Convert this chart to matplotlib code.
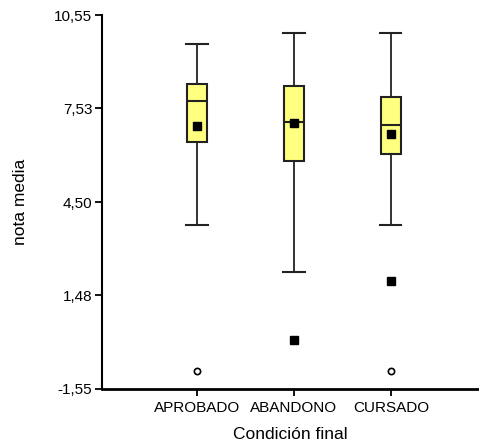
import matplotlib
matplotlib.use("Agg")
import matplotlib.pyplot as plt

plt.rcParams['font.family'] = ['Liberation Sans', 'DejaVu Sans']

categories = ["APROBADO", "ABANDONO", "CURSADO"]
whislo = [3.75, 2.24, 3.75]
q1 = [6.44, 5.83, 6.07]
med = [7.77, 7.09, 6.99]
q3 = [8.31, 8.25, 7.90]
whishi = [9.62, 9.97, 9.97]
means = [6.95, 7.05, 6.69]
outliers_sq = [[], [0.03], [1.94]]
outliers_circ = [[-0.96], [], [-0.96]]
yticks = [-1.55, 1.48, 4.50, 7.53, 10.55]
ytick_labels = ["-1,55", "1,48", "4,50", "7,53", "10,55"]

fig = plt.figure(figsize=(4.79, 4.45), dpi=100)
ax = fig.add_axes([0.213, 0.126, 0.785, 0.840])

stats = []
for i in range(len(categories)):
    stats.append(dict(whislo=whislo[i], q1=q1[i], med=med[i], q3=q3[i],
                      whishi=whishi[i], fliers=[], label=categories[i]))
pos = list(range(1, len(categories) + 1))
ax.bxp(stats, positions=pos, widths=0.21, patch_artist=True, showfliers=False,
       boxprops=dict(facecolor='#FFFF80', edgecolor='#222222', linewidth=1.5),
       medianprops=dict(color='#222222', linewidth=1.5),
       whiskerprops=dict(color='#222222', linewidth=1.3),
       capprops=dict(color='#222222', linewidth=1.5),
       capwidths=0.22)

ax.plot(pos, means, 's', color='black', markersize=6, zorder=5)
for p, vals in zip(pos, outliers_sq):
    if vals:
        ax.plot([p] * len(vals), vals, 's', color='black', markersize=6, zorder=5)
for p, vals in zip(pos, outliers_circ):
    if vals:
        ax.plot([p] * len(vals), vals, 'o', markerfacecolor='white',
                markeredgecolor='black', markersize=4.5, markeredgewidth=1.2, zorder=5)

ax.set_xlim(0.02, 3.9)
ax.set_ylim(-1.55, 10.55)
ax.set_yticks(yticks)
ax.set_yticklabels(ytick_labels)
ax.set_xticks(pos)
ax.set_xticklabels(categories)
for s in ['top', 'right']:
    ax.spines[s].set_visible(False)
ax.spines['left'].set_linewidth(1.5)
ax.spines['bottom'].set_linewidth(2)
ax.tick_params(axis='both', direction='out', length=5, width=1.3, labelsize=11, pad=2)
ax.tick_params(axis='x', pad=4)
ax.set_xlabel("Condición final", fontsize=12.5, labelpad=8)
ax.set_ylabel("nota media", fontsize=12.5, labelpad=19)

fig.savefig("out.png", dpi=100)
